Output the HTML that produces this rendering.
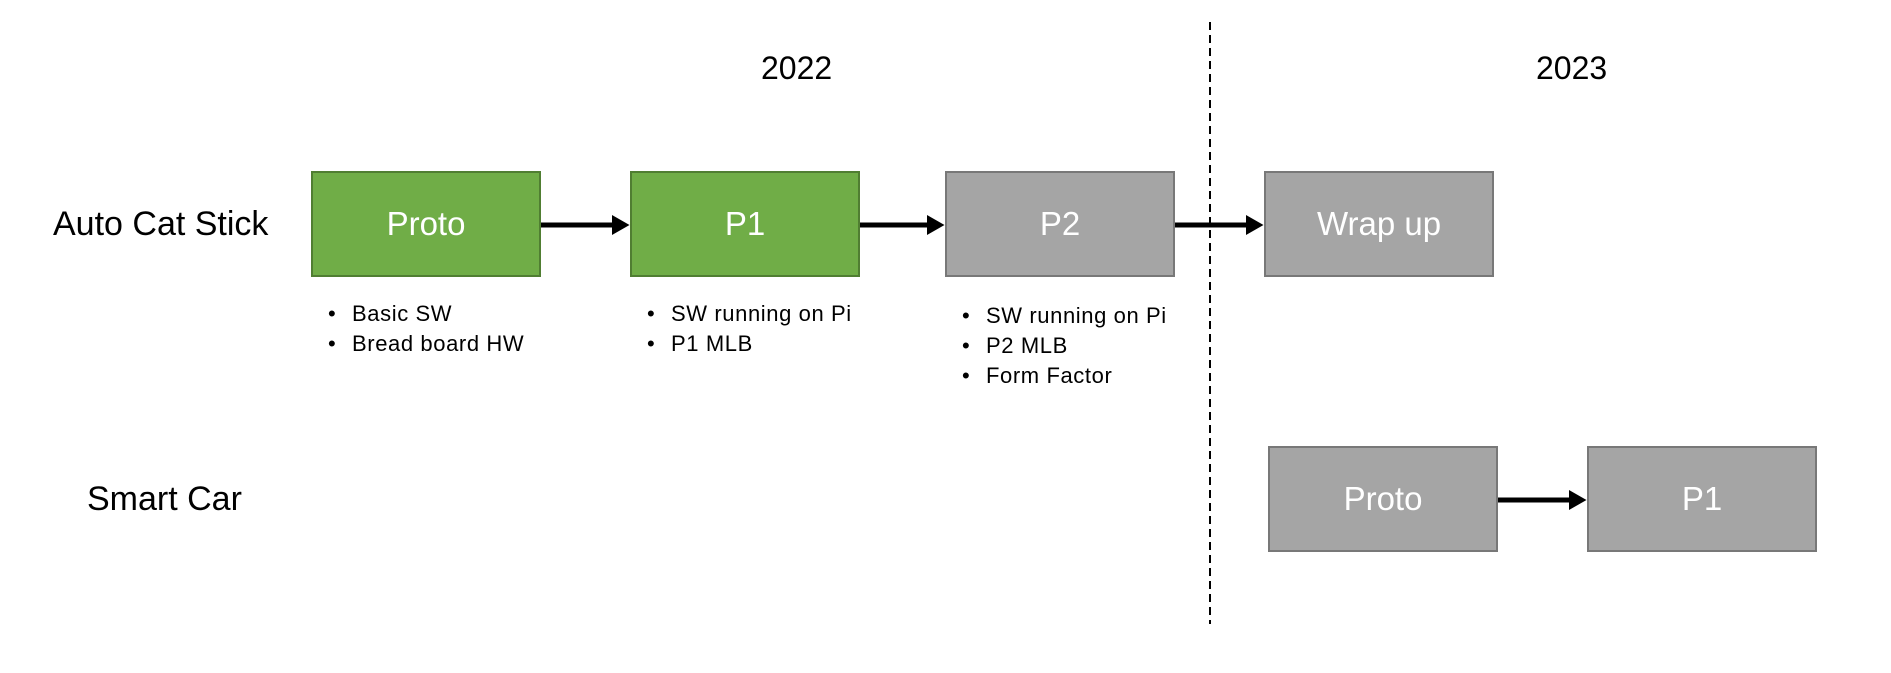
<!DOCTYPE html>
<html><head><meta charset="utf-8"><style>
body{margin:0;width:1891px;height:673px;background:#fff;position:relative;overflow:hidden;font-family:"Liberation Sans",sans-serif;}
.b{position:absolute;height:106px;width:230px;display:flex;align-items:center;justify-content:center;color:#fff;font-size:33px;box-sizing:border-box;}
.g{background:#70ad47;border:2px solid #507e32;}
.y{background:#a5a5a5;border:2px solid #787878;}
.t{position:absolute;font-size:32px;color:#000;white-space:nowrap;}
.l{position:absolute;font-size:22px;line-height:30px;white-space:nowrap;letter-spacing:0.6px;}
.l div{position:relative;padding-left:24px;}
.l div:before{content:"•";position:absolute;left:0;}
</style></head><body>
<div class="t" style="left:761px;top:50px">2022</div>
<div class="t" style="left:1536px;top:50px">2023</div>
<div class="t" style="left:53px;top:205px;font-size:34px">Auto Cat Stick</div>
<div class="t" style="left:87px;top:480px;font-size:34px">Smart Car</div>
<div class="b g" style="left:311px;top:171px">Proto</div>
<div class="b g" style="left:630px;top:171px">P1</div>
<div class="b y" style="left:945px;top:171px">P2</div>
<div class="b y" style="left:1264px;top:171px">Wrap up</div>
<div class="b y" style="left:1268px;top:446px">Proto</div>
<div class="b y" style="left:1587px;top:446px">P1</div>
<div class="l" style="left:328px;top:299px"><div>Basic SW</div><div>Bread board HW</div></div>
<div class="l" style="left:647px;top:299px"><div>SW running on Pi</div><div>P1 MLB</div></div>
<div class="l" style="left:962px;top:301px"><div>SW running on Pi</div><div>P2 MLB</div><div>Form Factor</div></div>
<svg width="1891" height="673" style="position:absolute;left:0;top:0">
<defs><marker id="a" markerWidth="4" markerHeight="4" refX="0" refY="2" orient="auto" markerUnits="strokeWidth"><path d="M0,0 L3.5,2 L0,4z" fill="#000"/></marker></defs>
<line x1="1210" y1="22" x2="1210" y2="624" stroke="#000" stroke-width="2" stroke-dasharray="8,5"/>
<g stroke="#000" stroke-width="5" marker-end="url(#a)">
<line x1="541" y1="225" x2="612" y2="225"/>
<line x1="860" y1="225" x2="927" y2="225"/>
<line x1="1175" y1="225" x2="1246" y2="225"/>
<line x1="1498" y1="500" x2="1569" y2="500"/>
</g></svg>
</body></html>
